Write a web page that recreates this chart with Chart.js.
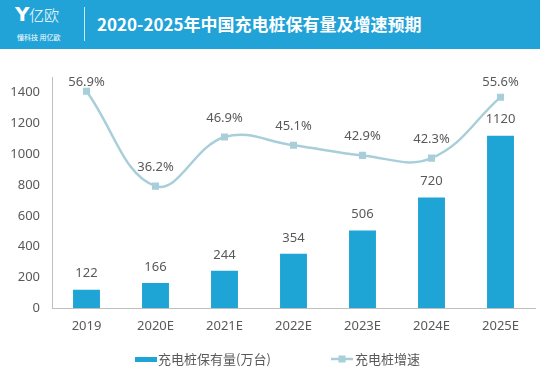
<!DOCTYPE html>
<html>
<head>
<meta charset="utf-8">
<script src="https://cdn.jsdelivr.net/npm/chart.js@4.4.1/dist/chart.umd.min.js"></script>
<style>
html,body{margin:0;padding:0;background:#fff;}
#wrap{position:relative;width:540px;height:386px;overflow:hidden;background:#fff;}
#c{display:block;position:absolute;left:0;top:0;}
#hdr{position:absolute;left:0;top:0;width:540px;height:49px;background:#22a3d8;color:#fff;font-family:"Noto Sans CJK SC","Noto Sans",sans-serif;}
#logoY{position:absolute;left:15px;top:2px;font:bold 20px "DejaVu Sans",sans-serif;line-height:24px;}
#logoT{position:absolute;left:29px;top:5px;font:300 15px "Noto Sans CJK SC",sans-serif;line-height:20px;}
#logoS{position:absolute;left:17px;top:33px;font:7px "Noto Sans CJK SC",sans-serif;line-height:9px;white-space:nowrap;}
#vline{position:absolute;left:84px;top:7px;width:1px;height:34px;background:rgba(255,255,255,0.75);}
#title{position:absolute;left:97px;top:12px;font:bold 17px "Noto Sans CJK SC",sans-serif;line-height:24px;white-space:nowrap;}
</style>
</head>
<body>
<div id="wrap">
<canvas id="c" width="540" height="386"></canvas>
<div id="hdr">
  <div id="logoY">Y</div>
  <div id="logoT">亿欧</div>
  <div id="logoS">懂科技 用亿欧</div>
  <div id="vline"></div>
  <div id="title">2020-2025年中国充电桩保有量及增速预期</div>
</div>
</div>
<script>
const categories = ['2019', '2020E', '2021E', '2022E', '2023E', '2024E', '2025E'];
const stockValues = [122, 166, 244, 354, 506, 720, 1120];
const growthRates = [56.9, 36.2, 46.9, 45.1, 42.9, 42.3, 55.6];
const yTickValues = [0, 200, 400, 600, 800, 1000, 1200, 1400];
const seriesNames = ['充电桩保有量(万台)', '充电桩增速'];

const BAR_COLOR = '#1fa4d6';
const LINE_COLOR = '#a8cfd9';
const TEXT_COLOR = '#595959';
const AXIS_COLOR = '#bfbfbf';
const NUM_FONT = '"Noto Sans", "Noto Sans CJK SC", sans-serif';
const CJK_FONT = '"Noto Sans CJK SC", sans-serif';

const labelPlugin = {
  id: 'valueLabels',
  afterDatasetsDraw(chart) {
    const ctx = chart.ctx;
    ctx.save();
    ctx.fillStyle = TEXT_COLOR;
    ctx.font = '13px ' + NUM_FONT;
    ctx.textAlign = 'center';
    ctx.textBaseline = 'middle';
    chart.getDatasetMeta(1).data.forEach((bar, i) => {
      ctx.fillText(String(stockValues[i]), bar.x, bar.y - 16);
    });
    chart.getDatasetMeta(0).data.forEach((pt, i) => {
      const y = Math.max(pt.y - 19, 82);
      ctx.fillText(growthRates[i].toFixed(1) + '%', pt.x, y);
    });
    ctx.restore();
  }
};

const legendPlugin = {
  id: 'customLegend',
  afterDraw(chart) {
    const ctx = chart.ctx;
    ctx.save();
    const cy = 359;
    ctx.fillStyle = BAR_COLOR;
    ctx.fillRect(135, 357, 22, 5);
    ctx.font = '13px ' + CJK_FONT;
    ctx.fillStyle = TEXT_COLOR;
    ctx.textAlign = 'left';
    ctx.textBaseline = 'middle';
    ctx.fillText(seriesNames[0], 158, cy);
    ctx.strokeStyle = LINE_COLOR;
    ctx.lineWidth = 2.5;
    ctx.beginPath();
    ctx.moveTo(331, cy);
    ctx.lineTo(353, cy);
    ctx.stroke();
    ctx.fillStyle = LINE_COLOR;
    ctx.fillRect(338.5, cy - 3.5, 7, 7);
    ctx.fillStyle = TEXT_COLOR;
    ctx.fillText(seriesNames[1], 355, cy);
    ctx.restore();
  }
};

new Chart(document.getElementById('c'), {
  data: {
    labels: categories,
    datasets: [
      {
        type: 'line',
        label: seriesNames[1],
        data: growthRates,
        yAxisID: 'y2',
        borderColor: LINE_COLOR,
        borderWidth: 2.5,
        tension: 0.4,
        pointStyle: 'rect',
        pointRadius: 5,
        pointBackgroundColor: LINE_COLOR,
        pointBorderWidth: 0,
        order: 1
      },
      {
        type: 'bar',
        label: seriesNames[0],
        data: stockValues,
        yAxisID: 'y',
        backgroundColor: BAR_COLOR,
        barPercentage: 0.39,
        categoryPercentage: 1,
        order: 2
      }
    ]
  },
  options: {
    responsive: false,
    animation: false,
    layout: { padding: { top: 77, right: 5, bottom: 40, left: 0 } },
    plugins: {
      legend: { display: false },
      tooltip: { enabled: false },
      title: { display: false }
    },
    scales: {
      x: {
        grid: { display: true, color: 'rgba(0,0,0,0)', drawTicks: false },
        border: { display: true, color: AXIS_COLOR, width: 1 },
        ticks: { color: TEXT_COLOR, font: { size: 13, family: NUM_FONT }, padding: 10, maxRotation: 0 },
        afterFit(s) { s.height = 37.5; }
      },
      y: {
        position: 'left',
        min: 0,
        max: 1500,
        grid: { display: true, color: 'rgba(0,0,0,0)', drawTicks: false },
        border: { display: true, color: AXIS_COLOR, width: 1 },
        ticks: {
          stepSize: 200,
          color: TEXT_COLOR,
          font: { size: 13, family: NUM_FONT },
          padding: 12,
          callback(v) { return yTickValues.includes(v) ? String(v) : null; }
        },
        afterFit(s) { s.width = 52; }
      },
      y2: {
        display: false,
        position: 'right',
        min: 9.5,
        max: 60
      }
    }
  },
  plugins: [labelPlugin, legendPlugin]
});
</script>
</body>
</html>
